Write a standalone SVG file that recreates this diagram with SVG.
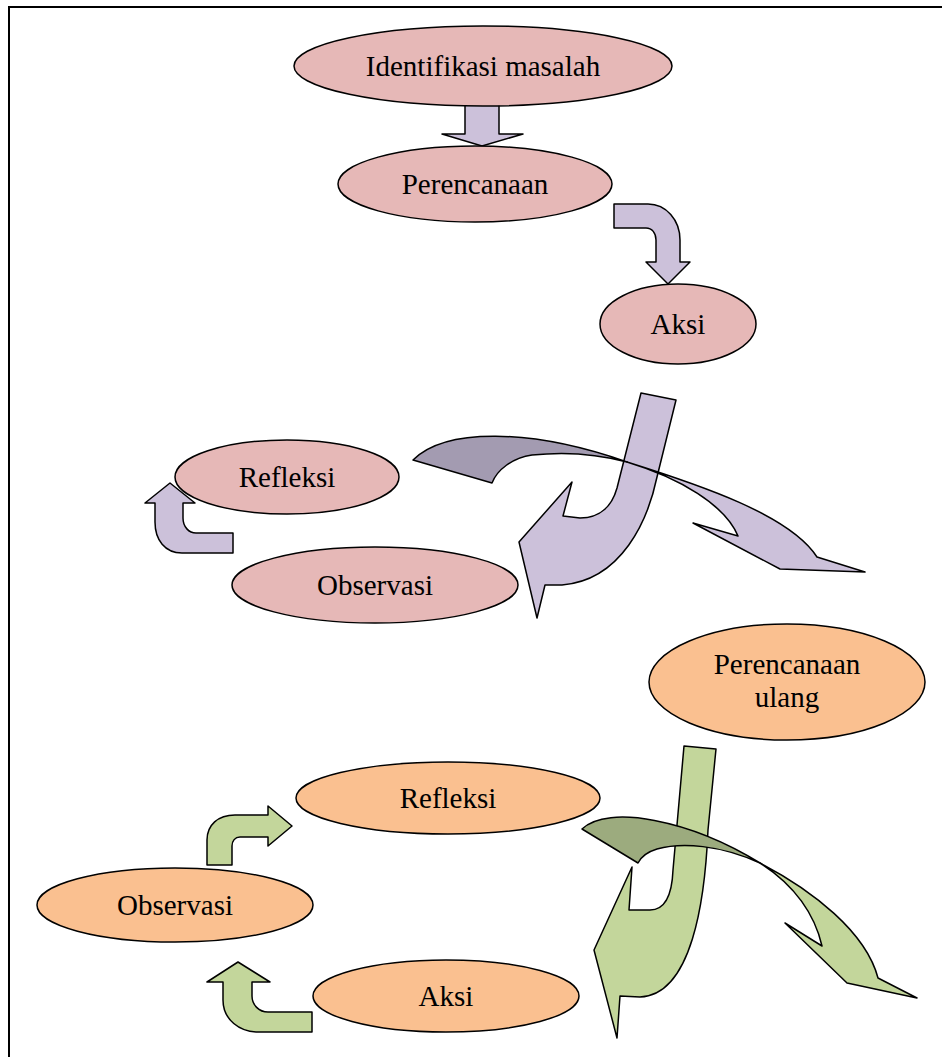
<svg xmlns="http://www.w3.org/2000/svg" width="942" height="1057" viewBox="0 0 942 1057">
<style>
.pk{fill:#E6B8B7;stroke:#000;stroke-width:1.5}
.or{fill:#FAC090;stroke:#000;stroke-width:1.5}
.pu{fill:#CCC1DA;stroke:#000;stroke-width:1.5;stroke-linejoin:round}
.pud{fill:#A39BB1;stroke:#000;stroke-width:1.5;stroke-linejoin:round}
.gr{fill:#C3D69B;stroke:#000;stroke-width:1.5;stroke-linejoin:round}
.grd{fill:#9CAB7E;stroke:#000;stroke-width:1.5;stroke-linejoin:round}
text{font-family:"Liberation Serif","Times New Roman",serif;font-size:29px;fill:#000;text-anchor:middle}
</style>
<rect x="9" y="7" width="960" height="1080" fill="#fff" stroke="#000" stroke-width="2"/>
<g id="connectors">
<path class="pu" d="M465,100 L499,100 L499,134 L523,134 L482,146 L442,134 L465,134 Z"/>
<path class="pu" d="M614,204 L648,204 C666,204 680,220 680,240 L680,262 L690,262 L668,284 L646,262 L656,262 L656,240 C656,233 652,228 646,228 L614,228 Z"/>
<path class="pu" d="M233,533 L196,533 C189,533 183,527 183,518 L183,503 L195,503 L170,483 L145,503 L155,503 L155,522 C155,540 165,553 182,553 L233,553 Z"/>
<path class="pu" d="M641,393 L676,400 L657,477 C648,520 622,580 562,585 L545,585 L537,618 L519,542 L572,482 L563,516 L580,518 C600,518 612,506 617,488 L641,393 Z"/>
<path class="pud" d="M413,460 C445,428 530,428 627,462 C590,452 560,452 532,455 C512,458 497,470 492,483 Z"/>
<path class="pu" d="M627,462 C700,485 790,515 817,557 L865,572 L780,569 L693,523 L738,536 C725,505 680,478 627,462 Z"/>
<path class="gr" d="M684,746 L716,749 L708,830 C705,900 692,995 640,997 L620,996 L617,1038 L594,950 L632,867 L629,910 L650,910 C665,910 672,895 673,870 L684,746 Z"/>
<path class="grd" d="M582,829 C608,804 690,820 760,863 C720,845 682,842 657,849 C647,852 641,857 638,863 Z"/>
<path class="gr" d="M760,863 C812,890 866,932 878,978 L917,998 L847,983 L785,923 L822,946 C815,915 795,885 760,863 Z"/>
<path class="gr" d="M207,865 L207,840 C207,825 218,815 235,815 L268,815 L268,806 L292,826 L268,846 L268,837 L240,837 C235,837 232,841 232,846 L232,865 Z"/>
<path class="gr" d="M312,1012 L268,1012 C259,1012 252,1005 252,996 L252,982 L270,982 L238,962 L207,982 L223,982 L223,1000 C223,1020 240,1032 258,1032 L312,1032 Z"/>
</g>
<g id="n1"><ellipse class="pk" cx="483" cy="66" rx="189" ry="40"/><text x="483" y="76">Identifikasi masalah</text></g>
<g id="n2"><ellipse class="pk" cx="475" cy="184" rx="137" ry="38"/><text x="475" y="194">Perencanaan</text></g>
<g id="n3"><ellipse class="pk" cx="678" cy="324" rx="78" ry="40"/><text x="678" y="334">Aksi</text></g>
<g id="n4"><ellipse class="pk" cx="287" cy="477" rx="112" ry="37"/><text x="287" y="487">Refleksi</text></g>
<g id="n5"><ellipse class="pk" cx="375" cy="585" rx="143" ry="38"/><text x="375" y="595">Observasi</text></g>
<g id="n6"><ellipse class="or" cx="787" cy="682" rx="138" ry="58"/><text x="787" y="674">Perencanaan</text><text x="787" y="707">ulang</text></g>
<g id="n7"><ellipse class="or" cx="448" cy="798" rx="152" ry="36"/><text x="448" y="808">Refleksi</text></g>
<g id="n8"><ellipse class="or" cx="175" cy="905" rx="138" ry="37"/><text x="175" y="915">Observasi</text></g>
<g id="n9"><ellipse class="or" cx="446" cy="996" rx="133" ry="36"/><text x="446" y="1006">Aksi</text></g>
</svg>
